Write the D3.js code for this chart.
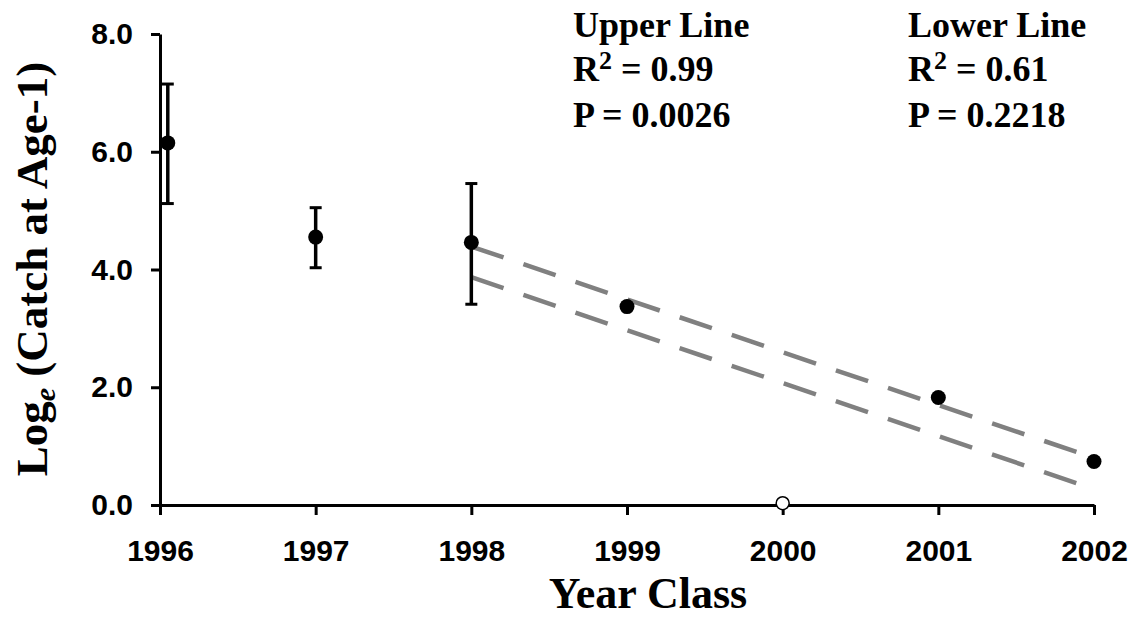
<!DOCTYPE html>
<html>
<head>
<meta charset="utf-8">
<script src="https://cdn.jsdelivr.net/npm/d3@7"></script>
<style>
  body { margin: 0; background: #fff; }
  .axis text { font-family: "Liberation Sans", Arial, sans-serif; font-weight: bold; font-size: 30px; fill: #000; }
  .axis path, .axis line { stroke: #000; stroke-width: 3; }
  .serif { font-family: "Liberation Serif", "Times New Roman", serif; font-weight: bold; fill: #000; }
</style>
</head>
<body>
<script>
var width = 1137,
  height = 617;

// catch at age-1, log scale
var years = [1996.05, 1997, 1998, 1999, 2000, 2001, 2002];
var logCatch = [6.15, 4.55, 4.46, 3.37, 0.03, 1.825, 0.74];
var excluded = [false, false, false, false, true, false, false];

// error bars
var errYears = [1996.05, 1997, 1998];
var errLow = [5.12, 4.03, 3.41];
var errHigh = [7.15, 5.05, 5.46];

// regression lines
var lineYears = [1998, 2002];
var upperLine = [4.39, 0.80];
var lowerLine = [3.87, 0.27];

var xTicks = [1996, 1997, 1998, 1999, 2000, 2001, 2002];
var yTicks = [0, 2, 4, 6, 8];

var statTitles = ["Upper Line", "Lower Line"];
var statR2 = ["0.99", "0.61"];
var statP = ["0.0026", "0.2218"];

var svg = d3
  .select("body")
  .append("svg")
  .attr("width", width)
  .attr("height", height);

var x = d3.scaleLinear().domain([1996, 2002]).range([160, 1094]);
var y = d3.scaleLinear().domain([0, 8]).range([505, 34]);

// axes
var yAxis = svg.append("g")
  .attr("class", "axis")
  .attr("transform", "translate(160,0)")
  .call(d3.axisLeft(y).tickValues(yTicks).tickFormat(d3.format(".1f"))
    .tickSize(9).tickSizeOuter(0).tickPadding(18));

var xAxis = svg.append("g")
  .attr("class", "axis")
  .attr("transform", "translate(0,505)")
  .call(d3.axisBottom(x).tickValues(xTicks).tickFormat(d3.format("d"))
    .tickSize(10).tickSizeOuter(0).tickPadding(25));

// dashed regression lines
var line = d3.line()
  .x(function(d) { return x(d[0]); })
  .y(function(d) { return y(d[1]); });

[upperLine, lowerLine].forEach(function(vals) {
  svg.append("path")
    .datum(lineYears.map(function(yr, i) { return [yr, vals[i]]; }))
    .attr("d", line)
    .attr("fill", "none")
    .attr("stroke", "#808080")
    .attr("stroke-width", 4.5)
    .attr("stroke-dasharray", "34,21");
});

// error bars
var errData = errYears.map(function(yr, i) {
  return { yr: yr, lo: errLow[i], hi: errHigh[i] };
});
var eb = svg.append("g").selectAll("g")
  .data(errData)
  .enter()
  .append("g")
  .attr("stroke", "#000")
  .attr("stroke-width", 3.5);
eb.append("line")
  .attr("x1", function(d) { return x(d.yr); })
  .attr("x2", function(d) { return x(d.yr); })
  .attr("y1", function(d) { return y(d.lo); })
  .attr("y2", function(d) { return y(d.hi); });
eb.append("line")
  .attr("x1", function(d) { return x(d.yr) - 6; })
  .attr("x2", function(d) { return x(d.yr) + 6; })
  .attr("y1", function(d) { return y(d.hi); })
  .attr("y2", function(d) { return y(d.hi); })
  .attr("stroke-width", 3);
eb.append("line")
  .attr("x1", function(d) { return x(d.yr) - 6; })
  .attr("x2", function(d) { return x(d.yr) + 6; })
  .attr("y1", function(d) { return y(d.lo); })
  .attr("y2", function(d) { return y(d.lo); })
  .attr("stroke-width", 3);

// points
var pts = years.map(function(yr, i) {
  return { yr: yr, v: logCatch[i], open: excluded[i] };
});
svg.append("g").selectAll("circle")
  .data(pts)
  .enter()
  .append("circle")
  .attr("cx", function(d) { return x(d.yr); })
  .attr("cy", function(d) { return y(d.v); })
  .attr("r", function(d) { return d.open ? 6.5 : 7.5; })
  .attr("fill", function(d) { return d.open ? "#fff" : "#000"; })
  .attr("stroke", "#000")
  .attr("stroke-width", function(d) { return d.open ? 1.5 : 0; });

// stats text
var statX = [573, 908];
statTitles.forEach(function(t, i) {
  var g = svg.append("g").attr("class", "serif").style("font-size", "36px");
  g.append("text").attr("x", statX[i]).attr("y", 37).text(t);
  var r = g.append("text").attr("x", statX[i]).attr("y", 81);
  r.append("tspan").text("R");
  r.append("tspan").attr("dy", -12).style("font-size", "26px").text("2");
  r.append("tspan").attr("dy", 12).text(" = " + statR2[i]);
  g.append("text").attr("x", statX[i]).attr("y", 127).text("P = " + statP[i]);
});

// axis titles
svg.append("text")
  .attr("class", "serif")
  .attr("x", 648)
  .attr("y", 607.5)
  .attr("text-anchor", "middle")
  .style("font-size", "44px")
  .text("Year Class");

var yl = svg.append("text")
  .attr("class", "serif")
  .attr("transform", "translate(47,269) rotate(-90)")
  .attr("text-anchor", "middle")
  .style("font-size", "45px");
yl.append("tspan").text("Log");
yl.append("tspan").attr("dy", 8).style("font-size", "30px").style("font-style", "italic").text("e");
yl.append("tspan").attr("dy", -8).text(" (Catch at Age-1)");
</script>
</body>
</html>
